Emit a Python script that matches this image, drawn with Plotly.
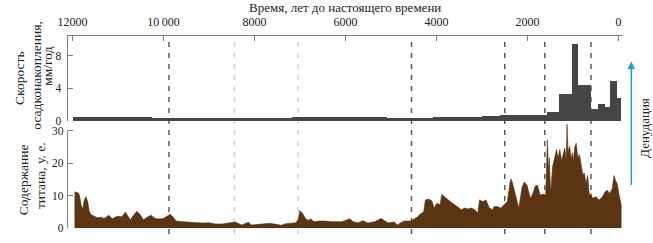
import plotly.graph_objects as go

# --- Data ---------------------------------------------------------------
# Sedimentation rate (mm/yr), step intervals in years BP
rate_edges = [12000, 10270, 7180, 5100, 4090, 3000, 2620, 1580, 1320, 1020, 890, 605, 455, 300, 195, 45, -40]
rate_values = [0.45, 0.3, 0.42, 0.3, 0.45, 0.6, 0.7, 1.05, 3.3, 9.4, 4.4, 1.5, 2.1, 1.7, 4.9, 2.8]

# Titanium content (arb. units)
ti_years = [11956, 11884, 11848, 11812, 11776, 11740, 11704, 11668, 11632, 11596, 11524, 11452, 11380, 11307,
            11200, 11127, 11019, 10911, 10839, 10767, 10731, 10659, 10587, 10515, 10443, 10335, 10263, 10226,
            10154, 10010, 9902, 9852, 9794, 9722, 9578, 9434, 9289, 9145, 9001, 8857, 8713, 8569, 8425, 8281,
            8137, 8065, 7849, 7812, 7668, 7524, 7416, 7308, 7163, 7091, 7038, 7005, 6948, 6876, 6804, 6768,
            6696, 6588, 6443, 6299, 6083, 5975, 5903, 5831, 5723, 5615, 5507, 5363, 5219, 5147, 5074, 4930,
            4858, 4786, 4714, 4570, 4498, 4426, 4354, 4282, 4245, 4173, 4101, 4051, 3993, 3921, 3885, 3813,
            3741, 3669, 3596, 3524, 3452, 3380, 3308, 3236, 3164, 3092, 3056, 2984, 2912, 2840, 2768, 2732,
            2660, 2588, 2515, 2443, 2371, 2335, 2263, 2191, 2119, 2069, 2010, 1938, 1881, 1830, 1780, 1722,
            1650, 1600, 1564, 1540, 1521, 1492, 1448, 1398, 1362, 1330, 1290, 1250, 1218, 1182, 1150, 1131,
            1110, 1074, 1040, 1016, 990, 966, 930, 894, 858, 822, 786, 750, 714, 678, 642, 606, 570, 497, 425,
            353, 296, 245, 195, 137, 101, 65, 29, -7, -43, -70]
ti_values = [11.2, 10.9, 10.2, 7.2, 5.8, 8.7, 9.7, 8.2, 5.2, 4.2, 3.7, 3.2, 3.4, 3.0,
             4.0, 2.9, 3.7, 3.5, 5.0, 3.4, 2.6, 4.0, 5.2, 4.2, 2.6, 3.6, 4.0, 3.4,
             2.9, 2.9, 3.7, 4.3, 3.5, 2.2, 2.0, 1.8, 1.7, 1.6, 1.7, 1.3, 1.3, 1.5, 1.9, 1.0,
             1.8, 1.0, 1.3, 1.5, 1.5, 1.2, 0.9, 1.4, 1.5, 1.7, 2.7, 5.4, 4.7, 2.9, 2.4, 2.9,
             2.0, 2.2, 2.2, 2.0, 2.0, 2.4, 2.9, 2.0, 1.7, 2.3, 1.6, 2.0, 3.0, 2.4, 1.7, 1.9,
             1.0, 1.7, 2.2, 2.2, 2.7, 3.4, 4.4, 5.0, 8.7, 9.0, 8.4, 6.2, 7.7, 7.2, 10.4, 9.4,
             8.7, 7.9, 7.2, 6.5, 5.7, 6.2, 5.9, 6.2, 5.7, 4.7, 8.7, 8.2, 8.7, 6.2, 5.7, 6.7,
             6.7, 6.2, 7.2, 8.2, 15.2, 14.2, 10.2, 6.2, 12.7, 14.2, 13.2, 9.2, 10.7, 13.0, 13.2, 10.2,
             10.5, 10.2, 27.2, 18.0, 21.7, 10.7, 19.0, 22.7, 24.2, 21.5, 24.2, 20.8, 23.2, 24.7, 21.0, 32.0,
             23.5, 25.2, 21.2, 23.2, 20.5, 24.7, 26.2, 21.7, 22.7, 19.5, 16.5, 17.0, 13.7, 16.2, 10.2, 10.7, 9.2, 9.7, 8.7,
             9.7, 11.2, 11.7, 10.7, 12.2, 16.2, 14.7, 13.7, 10.7, 7.7, 6.5]

x_tickvals = [12000, 10000, 8000, 6000, 4000, 2000, 0]
x_ticktext = ["12000", "10\u2009000", "8000", "6000", "4000", "2000", "0"]

dark_lines = [9880, 4550, 2500, 1620, 605]
light_lines = [8440, 7040]

# --- Figure -------------------------------------------------------------
W, H = 653, 243
def px(x):
    return x / W
def py(y):
    return 1 - y / H

FONT = "Times New Roman, Liberation Serif, serif"
BAR_COLOR = "#454545"
TI_COLOR = "#5a3413"
AX_COLOR = "#7a7a7a"

centers = [(a + b) / 2 for a, b in zip(rate_edges[:-1], rate_edges[1:])]
widths = [abs(a - b) for a, b in zip(rate_edges[:-1], rate_edges[1:])]

fig = go.Figure()
fig.add_trace(go.Bar(x=centers, y=rate_values, width=widths, marker=dict(color=BAR_COLOR, line=dict(width=0)),
                     xaxis="x", yaxis="y", showlegend=False))
fig.add_trace(go.Scatter(x=ti_years, y=ti_values, mode="lines", fill="tozeroy",
                         line=dict(color=TI_COLOR, width=0.6), fillcolor=TI_COLOR,
                         xaxis="x", yaxis="y2", showlegend=False))

x_left, x_right = 58.5, 621.2
TF = dict(family=FONT, size=12, color="#222")
TFY = dict(family=FONT, size=11.5, color="#222")
fig.update_layout(
    width=W, height=H, margin=dict(l=0, r=0, t=0, b=0),
    paper_bgcolor="white", plot_bgcolor="white",
    font=dict(family=FONT, size=12, color="#222"),
    bargap=0,
    xaxis=dict(domain=[px(x_left), px(x_right)], range=[12108, -70], side="top", anchor="y",
               tickvals=x_tickvals, ticktext=x_ticktext, ticks="inside", ticklen=5, tickcolor=AX_COLOR,
               showline=True, linecolor=AX_COLOR, linewidth=1, showgrid=False, zeroline=False,
               ticklabelstandoff=4, tickfont=TF),
    yaxis=dict(domain=[py(124), py(37)], range=[0, 10.4], anchor="x", tickvals=[0, 4, 8],
               ticks="inside", ticklen=5, tickcolor=AX_COLOR, showline=True, linecolor=AX_COLOR,
               showgrid=False, zeroline=False, ticklabelstandoff=3, tickfont=TFY),
    yaxis2=dict(domain=[py(234), py(126.7)], range=[0, 32.2], anchor="x", tickvals=[0, 10, 20, 30],
                ticks="inside", ticklen=5, tickcolor=AX_COLOR, showline=False,
                showgrid=False, zeroline=False, ticklabelstandoff=3, tickfont=TFY),
)

# bottom panel left axis line (0..30)
fig.add_shape(type="line", xref="paper", yref="y2", x0=px(x_left), x1=px(x_left), y0=0, y1=30,
              line=dict(color=AX_COLOR, width=1))

for xv in dark_lines:
    fig.add_shape(type="line", xref="x", yref="paper", x0=xv, x1=xv, y0=py(240), y1=py(37),
                  line=dict(color="#5a5a5a", width=1.5, dash="5px,6px"), layer="below")
for xv in light_lines:
    fig.add_shape(type="line", xref="x", yref="paper", x0=xv, x1=xv, y0=py(240), y1=py(37),
                  line=dict(color="#d0d0d0", width=1.5, dash="5px,6px"), layer="below")

# Titles
AF = lambda s: dict(family=FONT, size=s, color="#222")
fig.add_annotation(text="Время, лет до настоящего времени", xref="paper", yref="paper",
                   x=px(340), y=py(8), showarrow=False, font=AF(13), xanchor="center", yanchor="middle")
for txt, xc, yc in [("Скорость", 9, 80), ("осадконакопления,", 26, 77), ("мм/год", 38, 68)]:
    fig.add_annotation(text=txt, xref="paper", yref="paper", x=px(xc), y=py(yc), showarrow=False,
                       textangle=-90, font=AF(13.5), xanchor="center", yanchor="middle")
for txt, xc, yc in [("Содержание", 14, 184), ("титана, у. е.", 31, 180)]:
    fig.add_annotation(text=txt, xref="paper", yref="paper", x=px(xc), y=py(yc), showarrow=False,
                       textangle=-90, font=AF(13.5), xanchor="center", yanchor="middle")

# Denudation arrow + label
fig.add_annotation(text="", xref="paper", yref="paper", x=px(631), y=py(63), ax=0, ay=125,
                   showarrow=True, arrowhead=2, arrowsize=1, arrowwidth=1.5, arrowcolor="#1a9ddd")
fig.add_annotation(text="Денудация", xref="paper", yref="paper", x=px(645), y=py(131), showarrow=False,
                   textangle=-90, font=AF(13), xanchor="center", yanchor="middle")

fig.write_html("out.html")
